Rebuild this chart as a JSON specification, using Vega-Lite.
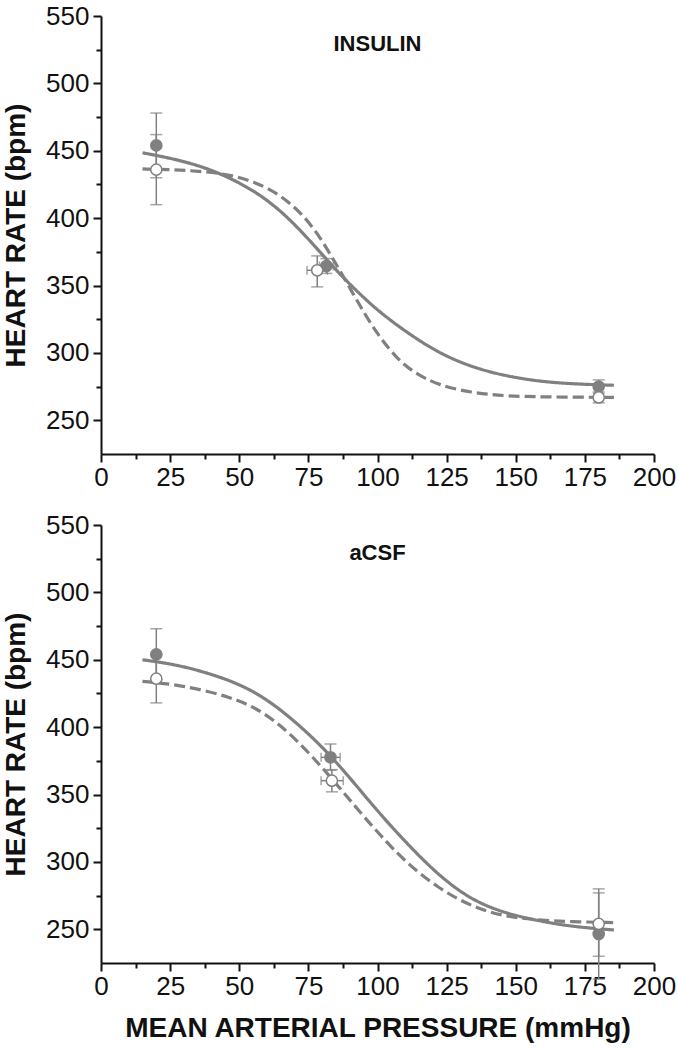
{
  "$schema": "https://vega.github.io/schema/vega-lite/v6.json",
  "background": "white",
  "padding": {"left": 2, "top": 3, "right": 4, "bottom": 4},
  "spacing": 22,
  "config": {
    "view": {"stroke": null},
    "font": "Liberation Sans",
    "axis": {
      "grid": false,
      "domainColor": "#111111",
      "domainWidth": 2,
      "tickColor": "#111111",
      "tickWidth": 2,
      "tickSize": 8,
      "labelFont": "Liberation Sans",
      "labelFontSize": 26,
      "labelColor": "#111111",
      "labelPadding": 4,
      "labelFlush": false,
      "labelOverlap": false,
      "titleFont": "Liberation Sans",
      "titleFontSize": 28,
      "titleFontWeight": "bold",
      "titleColor": "#111111"
    },
    "title": {"font": "Liberation Sans"}
  },
  "datasets": {
    "points": [
      {"panel": "INSULIN", "group": "filled", "x": 20, "y": 454, "ylo": 430, "yhi": 478},
      {"panel": "INSULIN", "group": "open", "x": 20, "y": 436, "ylo": 410, "yhi": 462},
      {"panel": "INSULIN", "group": "filled", "x": 81.5, "y": 364.5, "ylo": 359, "yhi": 370, "xlo": 79, "xhi": 84},
      {"panel": "INSULIN", "group": "open", "x": 78.2, "y": 361.3, "ylo": 349, "yhi": 372, "xlo": 74.5, "xhi": 81.9},
      {"panel": "INSULIN", "group": "filled", "x": 180, "y": 275, "ylo": 270, "yhi": 280},
      {"panel": "INSULIN", "group": "open", "x": 180, "y": 267, "ylo": 263, "yhi": 271},
      {"panel": "aCSF", "group": "filled", "x": 20, "y": 454, "ylo": 435, "yhi": 473},
      {"panel": "aCSF", "group": "open", "x": 20, "y": 436, "ylo": 418, "yhi": 454},
      {"panel": "aCSF", "group": "filled", "x": 83, "y": 377.6, "ylo": 368, "yhi": 387.5, "xlo": 79.6, "xhi": 86.5},
      {"panel": "aCSF", "group": "open", "x": 83.5, "y": 360.3, "ylo": 352, "yhi": 368.5, "xlo": 79.6, "xhi": 87.6},
      {"panel": "aCSF", "group": "filled", "x": 180, "y": 246.5, "ylo": 213, "yhi": 280},
      {"panel": "aCSF", "group": "open", "x": 180, "y": 254, "ylo": 230, "yhi": 277}
    ],
    "curves": [
      {"panel": "INSULIN", "group": "filled", "x": 15, "y": 448.5},
      {"panel": "INSULIN", "group": "filled", "x": 29, "y": 443},
      {"panel": "INSULIN", "group": "filled", "x": 43, "y": 434},
      {"panel": "INSULIN", "group": "filled", "x": 59, "y": 416.5},
      {"panel": "INSULIN", "group": "filled", "x": 71, "y": 394},
      {"panel": "INSULIN", "group": "filled", "x": 83, "y": 366},
      {"panel": "INSULIN", "group": "filled", "x": 89, "y": 353},
      {"panel": "INSULIN", "group": "filled", "x": 95, "y": 341},
      {"panel": "INSULIN", "group": "filled", "x": 101, "y": 330},
      {"panel": "INSULIN", "group": "filled", "x": 110, "y": 316},
      {"panel": "INSULIN", "group": "filled", "x": 122, "y": 300},
      {"panel": "INSULIN", "group": "filled", "x": 134, "y": 289.5},
      {"panel": "INSULIN", "group": "filled", "x": 146, "y": 283},
      {"panel": "INSULIN", "group": "filled", "x": 158, "y": 279},
      {"panel": "INSULIN", "group": "filled", "x": 170, "y": 277},
      {"panel": "INSULIN", "group": "filled", "x": 185.5, "y": 276},
      {"panel": "INSULIN", "group": "open", "x": 15, "y": 436.5},
      {"panel": "INSULIN", "group": "open", "x": 25, "y": 436},
      {"panel": "INSULIN", "group": "open", "x": 35, "y": 435},
      {"panel": "INSULIN", "group": "open", "x": 47, "y": 432.5},
      {"panel": "INSULIN", "group": "open", "x": 59, "y": 424.5},
      {"panel": "INSULIN", "group": "open", "x": 69, "y": 411},
      {"panel": "INSULIN", "group": "open", "x": 77, "y": 393},
      {"panel": "INSULIN", "group": "open", "x": 83, "y": 373},
      {"panel": "INSULIN", "group": "open", "x": 89, "y": 352},
      {"panel": "INSULIN", "group": "open", "x": 95, "y": 330},
      {"panel": "INSULIN", "group": "open", "x": 101, "y": 311},
      {"panel": "INSULIN", "group": "open", "x": 107, "y": 296},
      {"panel": "INSULIN", "group": "open", "x": 113, "y": 285.5},
      {"panel": "INSULIN", "group": "open", "x": 122, "y": 276},
      {"panel": "INSULIN", "group": "open", "x": 134, "y": 270.5},
      {"panel": "INSULIN", "group": "open", "x": 146, "y": 268},
      {"panel": "INSULIN", "group": "open", "x": 160, "y": 267.3},
      {"panel": "INSULIN", "group": "open", "x": 185.5, "y": 267},
      {"panel": "aCSF", "group": "filled", "x": 15, "y": 450},
      {"panel": "aCSF", "group": "filled", "x": 29, "y": 446},
      {"panel": "aCSF", "group": "filled", "x": 47, "y": 435},
      {"panel": "aCSF", "group": "filled", "x": 59, "y": 422.5},
      {"panel": "aCSF", "group": "filled", "x": 71, "y": 403},
      {"panel": "aCSF", "group": "filled", "x": 83, "y": 379.5},
      {"panel": "aCSF", "group": "filled", "x": 95, "y": 350},
      {"panel": "aCSF", "group": "filled", "x": 101, "y": 335.5},
      {"panel": "aCSF", "group": "filled", "x": 110, "y": 315},
      {"panel": "aCSF", "group": "filled", "x": 122, "y": 290},
      {"panel": "aCSF", "group": "filled", "x": 134, "y": 271.7},
      {"panel": "aCSF", "group": "filled", "x": 146, "y": 262},
      {"panel": "aCSF", "group": "filled", "x": 158, "y": 256.4},
      {"panel": "aCSF", "group": "filled", "x": 170, "y": 252},
      {"panel": "aCSF", "group": "filled", "x": 185.5, "y": 249.5},
      {"panel": "aCSF", "group": "open", "x": 15, "y": 434},
      {"panel": "aCSF", "group": "open", "x": 29, "y": 431.3},
      {"panel": "aCSF", "group": "open", "x": 47, "y": 422.6},
      {"panel": "aCSF", "group": "open", "x": 59, "y": 411.5},
      {"panel": "aCSF", "group": "open", "x": 71, "y": 390.5},
      {"panel": "aCSF", "group": "open", "x": 83, "y": 363.2},
      {"panel": "aCSF", "group": "open", "x": 95, "y": 333.6},
      {"panel": "aCSF", "group": "open", "x": 101, "y": 320},
      {"panel": "aCSF", "group": "open", "x": 110, "y": 300},
      {"panel": "aCSF", "group": "open", "x": 122, "y": 280.4},
      {"panel": "aCSF", "group": "open", "x": 134, "y": 266.8},
      {"panel": "aCSF", "group": "open", "x": 146, "y": 259.4},
      {"panel": "aCSF", "group": "open", "x": 158, "y": 256.9},
      {"panel": "aCSF", "group": "open", "x": 170, "y": 255.6},
      {"panel": "aCSF", "group": "open", "x": 185.5, "y": 255}
    ]
  },
  "vconcat": [
    {
      "width": 553,
      "height": 438,
      "title": {"text": "INSULIN", "offset": -53, "fontSize": 22, "fontWeight": "bold", "color": "#111111", "anchor": "middle"},
      "resolve": {"axis": {"x": "independent", "y": "independent"}},
      "layer": [
        {
          "data": {"name": "curves"},
          "transform": [{"filter": "datum.panel == 'INSULIN'"}],
          "mark": {"type": "line", "interpolate": "basis", "color": "#808080", "strokeWidth": 3.2},
          "encoding": {
            "x": {"field": "x", "type": "quantitative", "scale": {"domain": [0, 200], "nice": false, "zero": false}, "axis": {"orient": "bottom", "values": [0, 25, 50, 75, 100, 125, 150, 175, 200], "title": null, "labelPadding": 2}},
            "y": {"field": "y", "type": "quantitative", "scale": {"domain": [225, 550], "nice": false, "zero": false}, "axis": {"orient": "left", "values": [250, 300, 350, 400, 450, 500, 550], "title": "HEART RATE (bpm)", "titlePadding": 15}},
            "strokeDash": {"field": "group", "type": "nominal", "scale": {"domain": ["filled", "open"], "range": [[1, 0], [11, 5]]}, "legend": null}
          }
        },
        {
          "data": {"name": "points"},
          "transform": [{"filter": "datum.panel == 'INSULIN'"}],
          "mark": {"type": "rule", "color": "#808080", "strokeWidth": 1.5},
          "encoding": {
            "x": {"field": "x", "type": "quantitative", "axis": {"orient": "bottom", "values": [12.5, 37.5, 62.5, 87.5, 112.5, 137.5, 162.5, 187.5], "labels": false, "domain": false, "tickSize": 5, "title": null}},
            "y": {"field": "ylo", "type": "quantitative", "axis": {"orient": "left", "values": [275, 325, 375, 425, 475, 525], "labels": false, "domain": false, "tickSize": 5, "title": null}},
            "y2": {"field": "yhi"}
          }
        },
        {
          "data": {"name": "points"},
          "transform": [{"filter": "datum.panel == 'INSULIN'"}, {"fold": ["ylo", "yhi"], "as": ["k", "v"]}],
          "mark": {"type": "tick", "orient": "horizontal", "color": "#808080", "size": 12, "thickness": 1.5},
          "encoding": {
            "x": {"field": "x", "type": "quantitative", "axis": null},
            "y": {"field": "v", "type": "quantitative", "axis": null}
          }
        },
        {
          "data": {"name": "points"},
          "transform": [{"filter": "datum.panel == 'INSULIN' && isValid(datum.xlo)"}],
          "mark": {"type": "rule", "color": "#808080", "strokeWidth": 1.5},
          "encoding": {
            "x": {"field": "xlo", "type": "quantitative", "axis": null},
            "x2": {"field": "xhi"},
            "y": {"field": "y", "type": "quantitative", "axis": null}
          }
        },
        {
          "data": {"name": "points"},
          "transform": [{"filter": "datum.panel == 'INSULIN' && isValid(datum.xlo)"}, {"fold": ["xlo", "xhi"], "as": ["k", "v"]}],
          "mark": {"type": "tick", "orient": "vertical", "color": "#808080", "size": 9, "thickness": 1.5},
          "encoding": {
            "x": {"field": "v", "type": "quantitative", "axis": null},
            "y": {"field": "y", "type": "quantitative", "axis": null}
          }
        },
        {
          "data": {"name": "points"},
          "transform": [{"filter": "datum.panel == 'INSULIN'"}],
          "mark": {"type": "point", "shape": "circle", "size": 125, "stroke": "#808080", "strokeWidth": 1.5, "opacity": 1},
          "encoding": {
            "x": {"field": "x", "type": "quantitative", "axis": null},
            "y": {"field": "y", "type": "quantitative", "axis": null},
            "fill": {"field": "group", "type": "nominal", "scale": {"domain": ["filled", "open"], "range": ["#808080", "#ffffff"]}, "legend": null}
          }
        }
      ]
    },
    {
      "width": 553,
      "height": 438,
      "title": {"text": "aCSF", "offset": -53, "fontSize": 22, "fontWeight": "bold", "color": "#111111", "anchor": "middle"},
      "resolve": {"axis": {"x": "independent", "y": "independent"}},
      "layer": [
        {
          "data": {"name": "curves"},
          "transform": [{"filter": "datum.panel == 'aCSF'"}],
          "mark": {"type": "line", "interpolate": "basis", "color": "#808080", "strokeWidth": 3.2},
          "encoding": {
            "x": {"field": "x", "type": "quantitative", "scale": {"domain": [0, 200], "nice": false, "zero": false}, "axis": {"orient": "bottom", "values": [0, 25, 50, 75, 100, 125, 150, 175, 200], "title": "MEAN ARTERIAL PRESSURE (mmHg)", "labelPadding": 2, "titlePadding": 15}},
            "y": {"field": "y", "type": "quantitative", "scale": {"domain": [225, 550], "nice": false, "zero": false}, "axis": {"orient": "left", "values": [250, 300, 350, 400, 450, 500, 550], "title": "HEART RATE (bpm)", "titlePadding": 15}},
            "strokeDash": {"field": "group", "type": "nominal", "scale": {"domain": ["filled", "open"], "range": [[1, 0], [11, 5]]}, "legend": null}
          }
        },
        {
          "data": {"name": "points"},
          "transform": [{"filter": "datum.panel == 'aCSF'"}],
          "mark": {"type": "rule", "color": "#808080", "strokeWidth": 1.5},
          "encoding": {
            "x": {"field": "x", "type": "quantitative", "axis": {"orient": "bottom", "values": [12.5, 37.5, 62.5, 87.5, 112.5, 137.5, 162.5, 187.5], "labels": false, "domain": false, "tickSize": 5, "title": null}},
            "y": {"field": "ylo", "type": "quantitative", "axis": {"orient": "left", "values": [275, 325, 375, 425, 475, 525], "labels": false, "domain": false, "tickSize": 5, "title": null}},
            "y2": {"field": "yhi"}
          }
        },
        {
          "data": {"name": "points"},
          "transform": [{"filter": "datum.panel == 'aCSF'"}, {"fold": ["ylo", "yhi"], "as": ["k", "v"]}],
          "mark": {"type": "tick", "orient": "horizontal", "color": "#808080", "size": 12, "thickness": 1.5},
          "encoding": {
            "x": {"field": "x", "type": "quantitative", "axis": null},
            "y": {"field": "v", "type": "quantitative", "axis": null}
          }
        },
        {
          "data": {"name": "points"},
          "transform": [{"filter": "datum.panel == 'aCSF' && isValid(datum.xlo)"}],
          "mark": {"type": "rule", "color": "#808080", "strokeWidth": 1.5},
          "encoding": {
            "x": {"field": "xlo", "type": "quantitative", "axis": null},
            "x2": {"field": "xhi"},
            "y": {"field": "y", "type": "quantitative", "axis": null}
          }
        },
        {
          "data": {"name": "points"},
          "transform": [{"filter": "datum.panel == 'aCSF' && isValid(datum.xlo)"}, {"fold": ["xlo", "xhi"], "as": ["k", "v"]}],
          "mark": {"type": "tick", "orient": "vertical", "color": "#808080", "size": 9, "thickness": 1.5},
          "encoding": {
            "x": {"field": "v", "type": "quantitative", "axis": null},
            "y": {"field": "y", "type": "quantitative", "axis": null}
          }
        },
        {
          "data": {"name": "points"},
          "transform": [{"filter": "datum.panel == 'aCSF'"}],
          "mark": {"type": "point", "shape": "circle", "size": 125, "stroke": "#808080", "strokeWidth": 1.5, "opacity": 1},
          "encoding": {
            "x": {"field": "x", "type": "quantitative", "axis": null},
            "y": {"field": "y", "type": "quantitative", "axis": null},
            "fill": {"field": "group", "type": "nominal", "scale": {"domain": ["filled", "open"], "range": ["#808080", "#ffffff"]}, "legend": null}
          }
        }
      ]
    }
  ]
}
